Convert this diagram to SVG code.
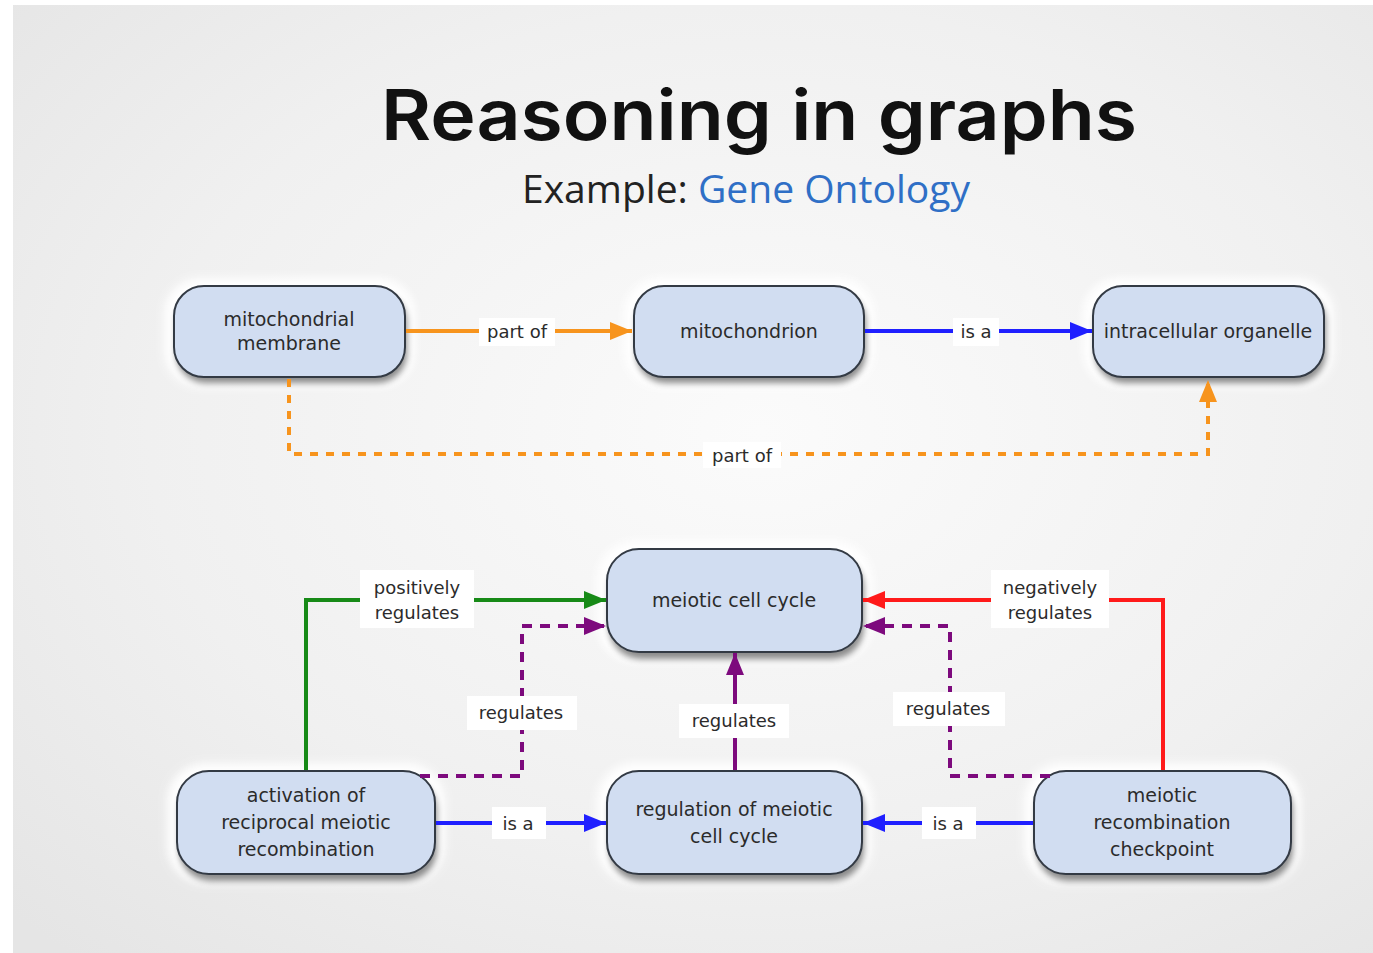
<svg xmlns="http://www.w3.org/2000/svg" width="1373" height="953" viewBox="0 0 1373 953">
<defs>
<radialGradient id="bg" cx="0.55" cy="0.45" r="0.75">
<stop offset="0" stop-color="#fbfbfb"/>
<stop offset="0.6" stop-color="#f0f0f0"/>
<stop offset="1" stop-color="#e5e5e5"/>
</radialGradient>
<filter id="glow" x="-20%" y="-30%" width="140%" height="160%"><feGaussianBlur stdDeviation="4"/></filter>
<filter id="shadow" x="-20%" y="-30%" width="140%" height="160%"><feGaussianBlur stdDeviation="3"/></filter>
<marker id="aOrange" viewBox="0 0 22 18" refX="22" refY="9" markerWidth="22" markerHeight="18" markerUnits="userSpaceOnUse" orient="auto"><path d="M0,0 L22,9 L0,18 Z" fill="#f7941d"/></marker>
<marker id="aBlue" viewBox="0 0 22 18" refX="22" refY="9" markerWidth="22" markerHeight="18" markerUnits="userSpaceOnUse" orient="auto"><path d="M0,0 L22,9 L0,18 Z" fill="#1f1fff"/></marker>
<marker id="aGreen" viewBox="0 0 22 18" refX="22" refY="9" markerWidth="22" markerHeight="18" markerUnits="userSpaceOnUse" orient="auto"><path d="M0,0 L22,9 L0,18 Z" fill="#178a17"/></marker>
<marker id="aRed" viewBox="0 0 22 18" refX="22" refY="9" markerWidth="22" markerHeight="18" markerUnits="userSpaceOnUse" orient="auto"><path d="M0,0 L22,9 L0,18 Z" fill="#ff1a1a"/></marker>
<marker id="aPurple" viewBox="0 0 22 18" refX="22" refY="9" markerWidth="22" markerHeight="18" markerUnits="userSpaceOnUse" orient="auto"><path d="M0,0 L22,9 L0,18 Z" fill="#7d0a7d"/></marker>
</defs>
<style>
.halo{fill:#ffffff;filter:url(#glow);opacity:0.95}
.shd{fill:#000;opacity:0.45;filter:url(#shadow)}
.box{fill:#d1ddf1;stroke:#333a44;stroke-width:2}
.nt{font-family:"DejaVu Sans",sans-serif;font-size:19px;fill:#2b2b2b;text-anchor:middle}
.lt{font-family:"DejaVu Sans",sans-serif;font-size:18px;fill:#2b2b2b;text-anchor:middle}
.lb{fill:#ffffff}
.e{fill:none;stroke-width:4}
</style>
<rect x="13" y="5" width="1360" height="948" fill="url(#bg)"/>
<g id="title">
<text x="759" y="140" font-family="Inter, 'Open Sans', sans-serif" font-weight="600" font-size="70" fill="#111" text-anchor="middle" textLength="756" lengthAdjust="spacingAndGlyphs">Reasoning in graphs</text>
<text x="746" y="203" font-family="'Open Sans', sans-serif" font-size="38" fill="#222" text-anchor="middle" textLength="448" lengthAdjust="spacingAndGlyphs">Example: <tspan fill="#2f6fc6">Gene Ontology</tspan></text>
</g>
<g id="node-mito-membrane">
<rect class="halo" x="164" y="278" width="251" height="109" rx="36"/>
<rect class="shd" x="176" y="292" width="231" height="91" rx="30"/>
<rect class="box" x="174" y="286" width="231" height="91" rx="30"/>
<text class="nt" x="289" y="326">mitochondrial</text><text class="nt" x="289" y="350">membrane</text>
</g>
<g id="node-mitochondrion">
<rect class="halo" x="624" y="278" width="250" height="109" rx="36"/>
<rect class="shd" x="636" y="292" width="230" height="91" rx="30"/>
<rect class="box" x="634" y="286" width="230" height="91" rx="30"/>
<text class="nt" x="749" y="338">mitochondrion</text>
</g>
<g id="node-organelle">
<rect class="halo" x="1083" y="278" width="251" height="109" rx="36"/>
<rect class="shd" x="1095" y="292" width="231" height="91" rx="30"/>
<rect class="box" x="1093" y="286" width="231" height="91" rx="30"/>
<text class="nt" x="1208" y="338">intracellular organelle</text>
</g>
<g id="node-meiotic-cell-cycle">
<rect class="halo" x="597" y="541" width="275" height="121" rx="38"/>
<rect class="shd" x="609" y="556" width="255" height="103" rx="32"/>
<rect class="box" x="607" y="549" width="255" height="103" rx="32"/>
<text class="nt" x="734" y="607">meiotic cell cycle</text>
</g>
<g id="node-activation">
<rect class="halo" x="167" y="763" width="278" height="121" rx="38"/>
<rect class="shd" x="179" y="778" width="258" height="103" rx="32"/>
<rect class="box" x="177" y="771" width="258" height="103" rx="32"/>
<text class="nt" x="306" y="802">activation of</text><text class="nt" x="306" y="829">reciprocal meiotic</text><text class="nt" x="306" y="856">recombination</text>
</g>
<g id="node-regulation">
<rect class="halo" x="597" y="763" width="275" height="121" rx="38"/>
<rect class="shd" x="609" y="778" width="255" height="103" rx="32"/>
<rect class="box" x="607" y="771" width="255" height="103" rx="32"/>
<text class="nt" x="734" y="816">regulation of meiotic</text><text class="nt" x="734" y="843">cell cycle</text>
</g>
<g id="node-checkpoint">
<rect class="halo" x="1024" y="763" width="277" height="121" rx="38"/>
<rect class="shd" x="1036" y="778" width="257" height="103" rx="32"/>
<rect class="box" x="1034" y="771" width="257" height="103" rx="32"/>
<text class="nt" x="1162" y="802">meiotic</text><text class="nt" x="1162" y="829">recombination</text><text class="nt" x="1162" y="856">checkpoint</text>
</g>
<g id="connectors">
<path class="e" d="M406,331 H632" stroke="#f7941d" marker-end="url(#aOrange)"/>
<path class="e" d="M865,331 H1092" stroke="#1f1fff" marker-end="url(#aBlue)"/>
<path class="e" d="M289,379 V454 H1208 V380" stroke="#f7941d" stroke-dasharray="8 8" marker-end="url(#aOrange)"/>
<path class="e" d="M306,770 V600 H606" stroke="#178a17" marker-end="url(#aGreen)"/>
<path class="e" d="M420,776 H522 V626 H606" stroke="#7d0a7d" stroke-width="5" stroke-dasharray="10 8" marker-end="url(#aPurple)"/>
<path class="e" d="M735,770 V653" stroke="#7d0a7d" stroke-width="5" marker-end="url(#aPurple)"/>
<path class="e" d="M1163,770 V600 H863" stroke="#ff1a1a" marker-end="url(#aRed)"/>
<path class="e" d="M1050,776 H950 V626 H863" stroke="#7d0a7d" stroke-width="5" stroke-dasharray="10 8" marker-end="url(#aPurple)"/>
<path class="e" d="M436,823 H606" stroke="#1f1fff" marker-end="url(#aBlue)"/>
<path class="e" d="M1033,823 H863" stroke="#1f1fff" marker-end="url(#aBlue)"/>
<rect class="lb" x="479" y="318" width="76" height="28"/><text class="lt" x="517" y="338">part of</text>
<rect class="lb" x="953" y="318" width="46" height="28"/><text class="lt" x="976" y="338">is a</text>
<rect class="lb" x="703" y="442" width="78" height="26"/><text class="lt" x="742" y="462">part of</text>
<rect class="lb" x="360" y="570" width="114" height="58"/><text class="lt" x="417" y="594">positively</text><text class="lt" x="417" y="619">regulates</text>
<rect class="lb" x="467" y="696" width="110" height="34"/><text class="lt" x="521" y="719">regulates</text>
<rect class="lb" x="679" y="704" width="110" height="34"/><text class="lt" x="734" y="727">regulates</text>
<rect class="lb" x="991" y="570" width="118" height="58"/><text class="lt" x="1050" y="594">negatively</text><text class="lt" x="1050" y="619">regulates</text>
<rect class="lb" x="893" y="692" width="112" height="34"/><text class="lt" x="948" y="715">regulates</text>
<rect class="lb" x="492" y="807" width="54" height="32"/><text class="lt" x="518" y="830">is a</text>
<rect class="lb" x="922" y="807" width="54" height="32"/><text class="lt" x="948" y="830">is a</text>
</g>
</svg>
